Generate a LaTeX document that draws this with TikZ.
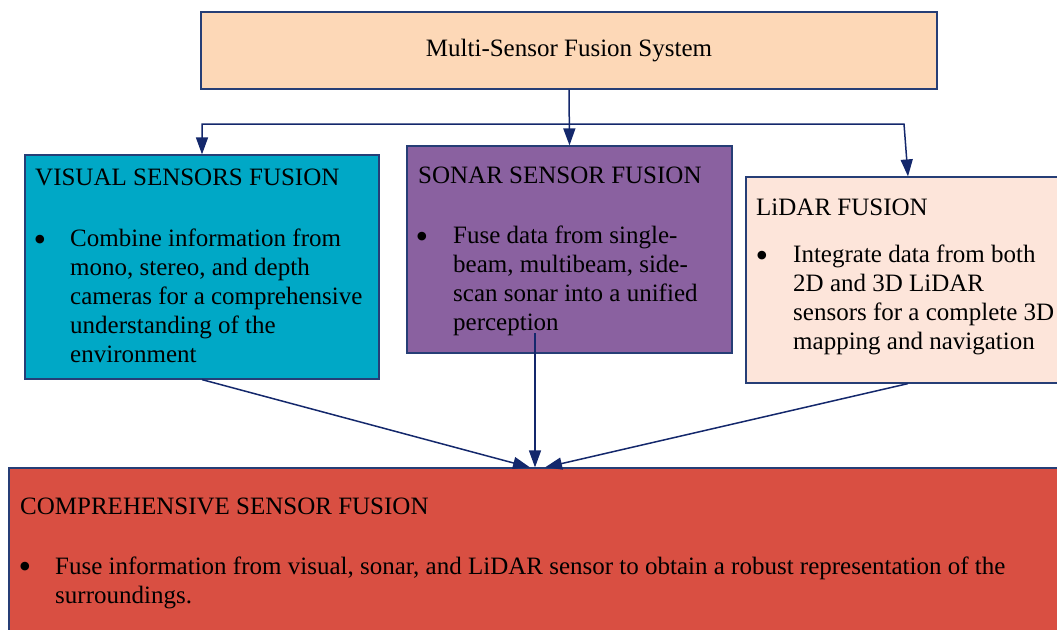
\documentclass[tikz,border=0pt]{standalone}
\usepackage{fontspec}
\setmainfont{Liberation Serif}
\usetikzlibrary{arrows.meta}

\definecolor{edgeblue}{RGB}{38,62,118}
\definecolor{flowblue}{RGB}{20,40,108}
\definecolor{systemfill}{RGB}{253,216,183}
\definecolor{visualfill}{RGB}{0,168,198}
\definecolor{sonarfill}{RGB}{138,97,160}
\definecolor{lidarfill}{RGB}{253,229,218}
\definecolor{fusionfill}{RGB}{217,79,66}

\tikzset{
	box/.style={draw=edgeblue, line width=1.2pt, rectangle, inner sep=0pt},
	flow/.style={draw=flowblue, line width=1.5pt},
	txt/.style={anchor=base west, inner sep=0pt, align=left},
	dot/.style={anchor=center, inner sep=0pt, font=\fontsize{36}{36}\selectfont},
	>={Triangle[length=17pt,width=12pt]}
}

\begin{document}
\begin{tikzpicture}[x=1pt, y=-1pt, font=\fontsize{25}{29}\selectfont]
\useasboundingbox (0,0) rectangle (1057,629);
\clip (0,0) rectangle (1057,629);

% boxes
\node[box, fill=systemfill, minimum width=736pt, minimum height=77pt] (system) at (569,50.5) {Multi-Sensor Fusion System};
\node[box, fill=visualfill, minimum width=354pt, minimum height=224pt] (visual) at (202,267) {};
\node[box, fill=sonarfill, minimum width=325pt, minimum height=207pt] (sonar) at (569.5,249.5) {};
\node[box, fill=lidarfill, minimum width=324pt, minimum height=206pt] (lidar) at (908,280) {};
\node[box, fill=fusionfill, minimum width=1056pt, minimum height=182pt] (fusion) at (537,559) {};

% arrows
\coordinate (split) at (569,124);
\coordinate (sonarout) at (535,333);
\draw[flow, ->] (system.south) -- (sonar.north);
\draw[flow, <->] (visual.north) -- (split -| visual.north) -- ([xshift=-4pt]split -| lidar.north) -- (lidar.north);
\draw[flow, ->] (visual.south) -- ([xshift=-7pt]fusion.north);
\draw[flow, ->] (sonarout) -- ([xshift=-2pt]fusion.north);
\draw[flow, ->] (lidar.south) -- ([xshift=8pt]fusion.north);

% texts (multi-line nodes sit on the baseline of their last line)
\node[txt] (visualhead) at (35,185) {VISUAL SENSORS FUSION};
\node[dot] (visualdot) at (40,243) {\textbullet};
\node[txt] (visualtext) at (70,362) {Combine information from\\mono, stereo, and depth\\cameras for a comprehensive\\understanding of the\\environment};

\node[txt] (sonarhead) at (418,183) {SONAR SENSOR FUSION};
\node[dot] (sonardot) at (422,240) {\textbullet};
\node[txt] (sonartext) at (453,330) {Fuse data from single-\\beam, multibeam, side-\\scan sonar into a unified\\perception};

\node[txt] (lidarhead) at (756,215) {LiDAR FUSION};
\node[dot] (lidardot) at (762,259) {\textbullet};
\node[txt] (lidartext) at (793,349) {Integrate data from both\\2D and 3D LiDAR\\sensors for a complete 3D\\mapping and navigation};

\node[txt] (fusionhead) at (20,514) {COMPREHENSIVE SENSOR FUSION};
\node[dot] (fusiondot) at (25,570) {\textbullet};
\node[txt] (fusiontext) at (55,603) {Fuse information from visual, sonar, and LiDAR sensor to obtain a robust representation of the\\surroundings.};
\end{tikzpicture}
\end{document}
